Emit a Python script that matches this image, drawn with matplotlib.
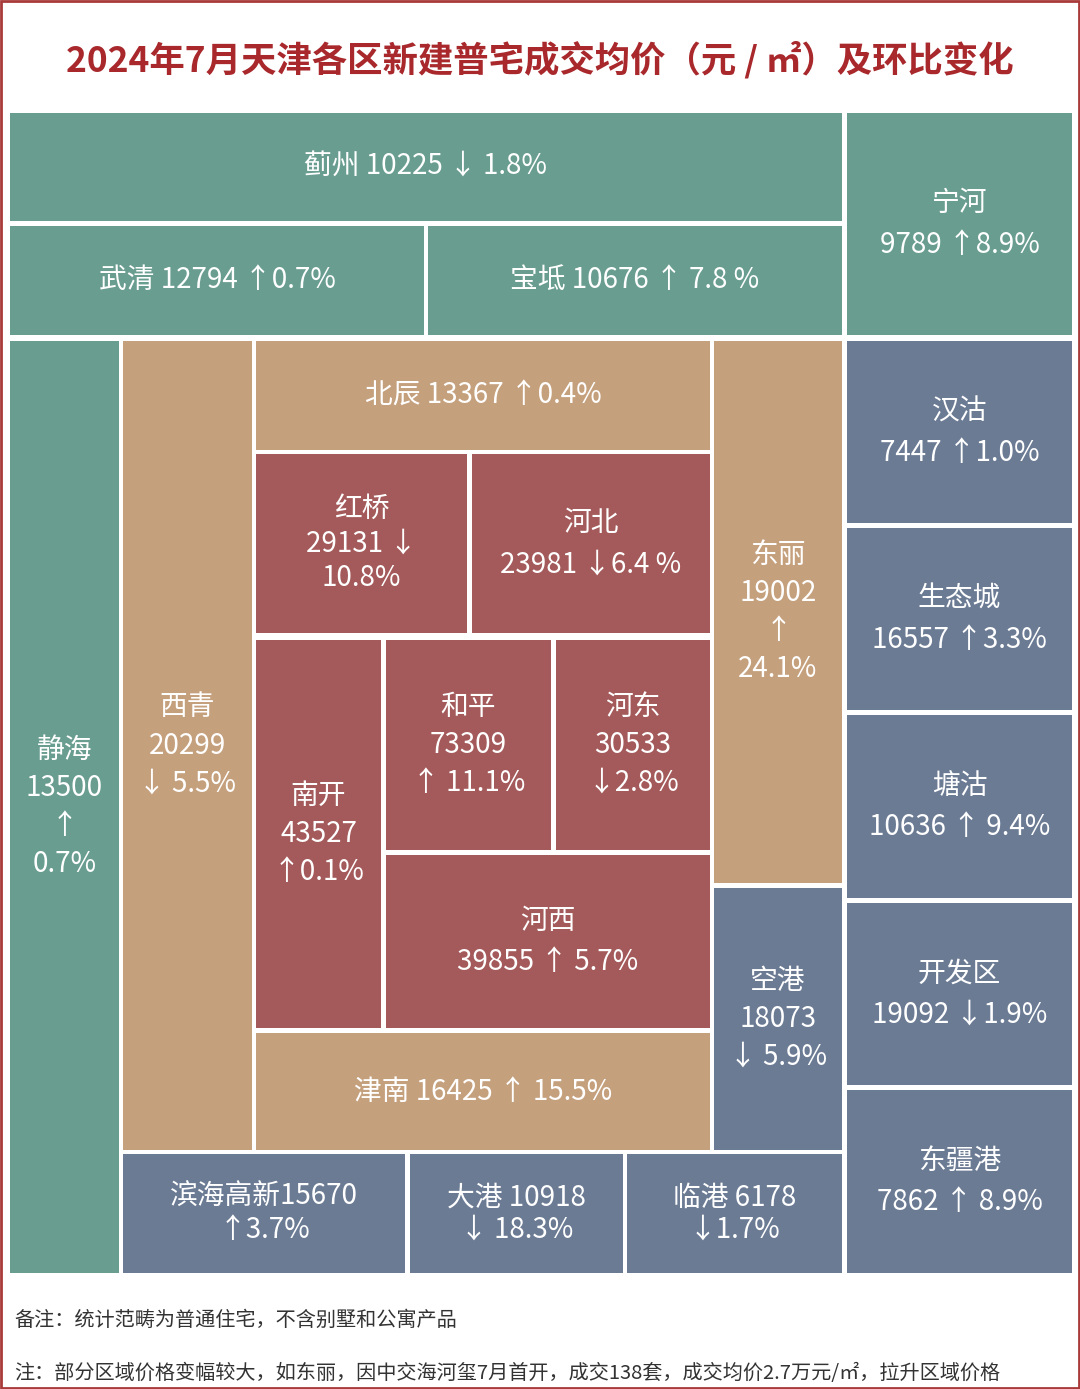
import matplotlib
matplotlib.use("Agg")
import matplotlib.pyplot as plt
from matplotlib.patches import Rectangle

plt.rcParams['font.family'] = ['Noto Sans CJK SC', 'DejaVu Sans']

# data
districts = ["蓟州", "宁河", "武清", "宝坻", "静海", "西青", "北辰", "东丽", "红桥", "河北",
             "南开", "和平", "河东", "河西", "津南", "空港", "滨海高新", "大港", "临港",
             "汉沽", "生态城", "塘沽", "开发区", "东疆港"]
prices = [10225, 9789, 12794, 10676, 13500, 20299, 13367, 19002, 29131, 23981,
          43527, 73309, 30533, 39855, 16425, 18073, 15670, 10918, 6178,
          7447, 16557, 10636, 19092, 7862]
changes = ["↓ 1.8%", "↑8.9%", "↑0.7%", "↑ 7.8 %", "↑|0.7%", "↓ 5.5%", "↑0.4%", "↑|24.1%", "↓|10.8%", "↓6.4 %",
           "↑0.1%", "↑ 11.1%", "↓2.8%", "↑ 5.7%", "↑ 15.5%", "↓ 5.9%", "↑3.7%", "↓ 18.3%", "↓1.7%",
           "↑1.0%", "↑3.3%", "↑ 9.4%", "↓1.9%", "↑ 8.9%"]
groups = ["teal", "teal", "teal", "teal", "teal", "tan", "tan", "tan", "red", "red",
          "red", "red", "red", "red", "tan", "slate", "slate", "slate", "slate",
          "slate", "slate", "slate", "slate", "slate"]

# layout (pixel boxes x0, y0, x1, y1) and label templates
boxes = [(10, 113, 842, 221), (847, 113, 1072, 335), (10, 226, 424, 335), (428, 226, 842, 335),
         (10, 341, 119, 1273), (123, 341, 252, 1150), (256, 341, 710, 450), (714, 341, 842, 883),
         (256, 454, 467, 633), (472, 454, 710, 633), (256, 640, 381, 1028), (386, 640, 551, 850),
         (556, 640, 710, 850), (386, 855, 710, 1028), (256, 1033, 710, 1150), (714, 888, 842, 1150),
         (123, 1154, 405, 1273), (410, 1154, 623, 1273), (627, 1154, 842, 1273),
         (847, 341, 1072, 523), (847, 528, 1072, 710), (847, 715, 1072, 898),
         (847, 903, 1072, 1085), (847, 1090, 1072, 1273)]
templates = ["{n} {p} {c}", "{n}\n{p} {c}", "{n} {p} {c}", "{n} {p} {c}",
             "{n}\n{p}\n{c}", "{n}\n{p}\n{c}", "{n} {p} {c}", "{n}\n{p}\n{c}",
             "{n}\n{p} {c}", "{n}\n{p} {c}", "{n}\n{p}\n{c}", "{n}\n{p}\n{c}",
             "{n}\n{p}\n{c}", "{n}\n{p} {c}", "{n} {p} {c}", "{n}\n{p}\n{c}",
             "{n}{p}\n{c}", "{n} {p}\n{c}", "{n} {p}\n{c}",
             "{n}\n{p} {c}", "{n}\n{p} {c}", "{n}\n{p} {c}", "{n}\n{p} {c}", "{n}\n{p} {c}"]
spacing = {4: 1.35, 5: 1.35, 7: 1.35, 10: 1.35, 11: 1.35, 12: 1.35, 15: 1.35,
           8: 1.2, 16: 1.1, 17: 1.1, 18: 1.1}
colors = {"teal": "#699d90", "tan": "#c5a07d", "red": "#a45a5a", "slate": "#6b7b94"}

W, H = 1080, 1389
fig = plt.figure(figsize=(W / 100, H / 100), dpi=100)
ax = fig.add_axes([0, 0, 1, 1])
ax.set_xlim(0, W)
ax.set_ylim(H, 0)
ax.axis("off")

ax.add_patch(Rectangle((1, 1), W - 2, H - 2, fill=False, edgecolor="#a83a3a", lw=2))
ax.text(W / 2, 60, "2024年7月天津各区新建普宅成交均价（元 / ㎡）及环比变化",
        ha="center", va="center", fontsize=25.5, color="#a8282c", fontweight="bold")

for i, (x0, y0, x1, y1) in enumerate(boxes):
    ax.add_patch(Rectangle((x0, y0), x1 - x0, y1 - y0, facecolor=colors[groups[i]], edgecolor="none"))
    c = changes[i].replace("|", "\n")
    t = templates[i].format(n=districts[i], p=prices[i], c=c)
    if "|" in changes[i]:
        t = t.replace(" \n", "\n")
    ax.text((x0 + x1) / 2, (y0 + y1) / 2, t, ha="center", va="center", color="white",
            fontsize=20, linespacing=spacing.get(i, 1.5), fontweight="medium")

ax.text(14, 1320, "备注：统计范畴为普通住宅，不含别墅和公寓产品", ha="left", va="center",
        fontsize=14.5, color="#333333", fontweight="medium")
ax.text(14, 1373, "注：部分区域价格变幅较大，如东丽，因中交海河玺7月首开，成交138套，成交均价2.7万元/㎡，拉升区域价格",
        ha="left", va="center", fontsize=14.5, color="#333333", fontweight="medium")

fig.savefig("out.png", dpi=100)
